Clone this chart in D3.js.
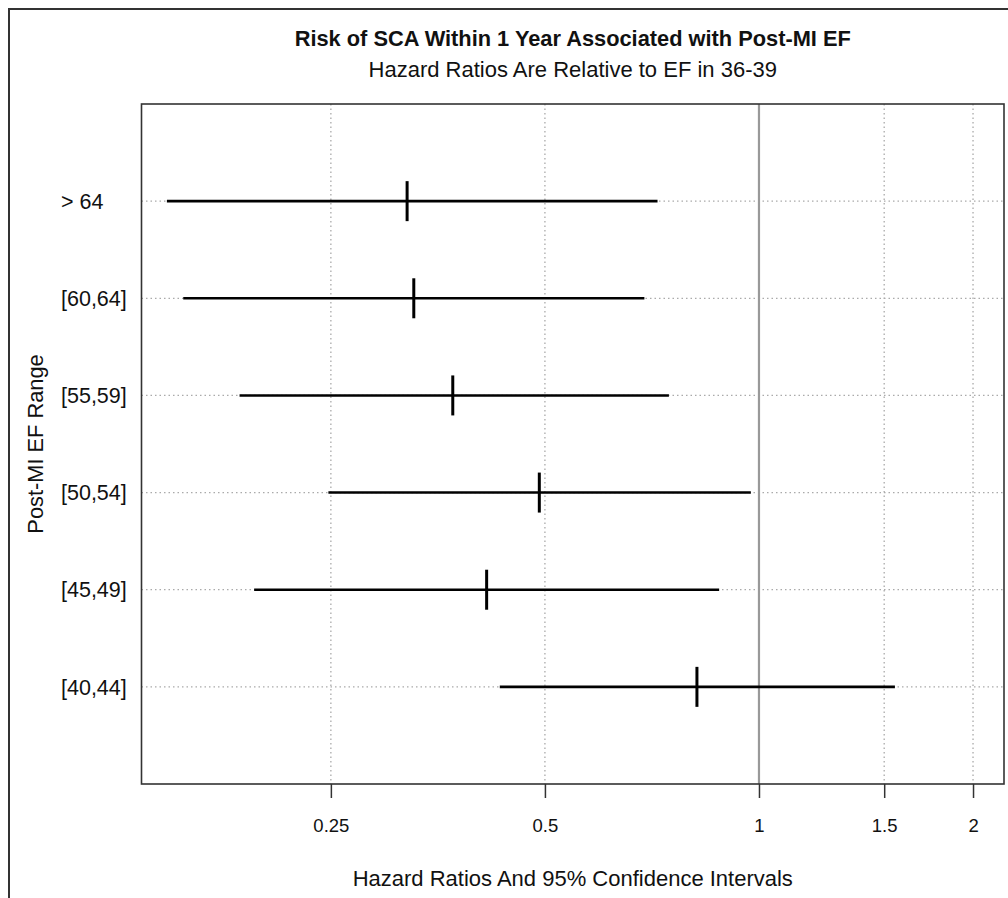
<!DOCTYPE html>
<html lang="en">
<head>
  <meta charset="UTF-8" />
  <title>Risk of SCA Within 1 Year Associated with Post-MI EF</title>
  <script src="https://d3js.org/d3.v7.min.js"></script>
  <style>
    body {
      margin: 0;
      background: #fff;
      font-family: 'Liberation Sans', Arial, sans-serif;
    }
    .grid line {
      stroke: #aaa;
      stroke-width: 1.3;
      stroke-dasharray: 1.5 3;
    }
    .x-axis path { display: none; }
    .x-axis line { stroke: #333; stroke-width: 1.5; }
    .x-axis text { font-size: 18.5px; fill: #111; }
  </style>
</head>
<body>
  <div id="chart"></div>

  <script>
    // EF ranges, top to bottom
    const ranges = ["> 64", "[60,64]", "[55,59]", "[50,54]", "[45,49]", "[40,44]"];
    // hazard ratios and 95% CI
    const hazard = [0.320, 0.327, 0.371, 0.491, 0.414, 0.818];
    const ciLow  = [0.147, 0.155, 0.186, 0.248, 0.195, 0.432];
    const ciHigh = [0.720, 0.690, 0.747, 0.974, 0.879, 1.553];
    const xTicks = [0.25, 0.5, 1, 1.5, 2];

    const width = 1008, height = 898;
    const margin = { top: 104, right: 4, bottom: 114, left: 141.5 };

    const rows = ranges.map((r, i) => ({ range: r, hr: hazard[i], lo: ciLow[i], hi: ciHigh[i] }));

    const svg = d3.select("#chart").append("svg")
      .attr("width", width)
      .attr("height", height);

    // outer frame
    svg.append("rect")
      .attr("x", 9).attr("y", 9)
      .attr("width", width + 20).attr("height", height + 20)
      .attr("fill", "none")
      .attr("stroke", "#333")
      .attr("stroke-width", 2);

    const x = d3.scaleLog()
      .domain([0.1354, 2.211])
      .range([margin.left, width - margin.right]);

    const y = d3.scalePoint()
      .domain(ranges)
      .range([margin.top, height - margin.bottom])
      .padding(1);

    const plotTop = margin.top, plotBottom = height - margin.bottom;

    // dotted grid
    const grid = svg.append("g").attr("class", "grid");
    grid.selectAll(".vg")
      .data(xTicks.filter(d => d !== 1))
      .enter().append("line")
      .attr("x1", d => x(d)).attr("x2", d => x(d))
      .attr("y1", plotTop).attr("y2", plotBottom);
    grid.selectAll(".hg")
      .data(ranges)
      .enter().append("line")
      .attr("x1", margin.left).attr("x2", width - margin.right)
      .attr("y1", d => y(d)).attr("y2", d => y(d));

    // reference line at HR = 1
    svg.append("line")
      .attr("x1", x(1)).attr("x2", x(1))
      .attr("y1", plotTop).attr("y2", plotBottom)
      .attr("stroke", "#999")
      .attr("stroke-width", 2.2);

    // confidence intervals
    svg.selectAll(".ci")
      .data(rows)
      .enter().append("line")
      .attr("x1", d => x(d.lo)).attr("x2", d => x(d.hi))
      .attr("y1", d => y(d.range)).attr("y2", d => y(d.range))
      .attr("stroke", "#000")
      .attr("stroke-width", 2.6);

    // point estimates
    svg.selectAll(".est")
      .data(rows)
      .enter().append("line")
      .attr("x1", d => x(d.hr)).attr("x2", d => x(d.hr))
      .attr("y1", d => y(d.range) - 20).attr("y2", d => y(d.range) + 20)
      .attr("stroke", "#000")
      .attr("stroke-width", 3);

    // plot box
    svg.append("rect")
      .attr("x", margin.left).attr("y", plotTop)
      .attr("width", width - margin.right - margin.left)
      .attr("height", plotBottom - plotTop)
      .attr("fill", "none")
      .attr("stroke", "#333")
      .attr("stroke-width", 1.6);

    // x axis
    svg.append("g")
      .attr("class", "x-axis")
      .attr("transform", `translate(0,${plotBottom})`)
      .call(d3.axisBottom(x)
        .tickValues(xTicks)
        .tickFormat(d3.format("~g"))
        .tickSize(14)
        .tickPadding(21));

    // y labels, left aligned
    svg.selectAll(".ylab")
      .data(ranges)
      .enter().append("text")
      .attr("x", 61)
      .attr("y", d => y(d))
      .attr("dy", "0.36em")
      .style("font-size", "21.5px")
      .style("fill", "#111")
      .text(d => d);

    const cx = (margin.left + width - margin.right) / 2;

    svg.append("text")
      .attr("x", cx).attr("y", 46)
      .attr("text-anchor", "middle")
      .style("font-size", "21.8px")
      .style("font-weight", "bold")
      .style("fill", "#111")
      .text("Risk of SCA Within 1 Year Associated with Post-MI EF");

    svg.append("text")
      .attr("x", cx).attr("y", 77)
      .attr("text-anchor", "middle")
      .style("font-size", "22px")
      .style("fill", "#111")
      .text("Hazard Ratios Are Relative to EF in 36-39");

    svg.append("text")
      .attr("x", cx).attr("y", 886)
      .attr("text-anchor", "middle")
      .style("font-size", "22px")
      .style("fill", "#111")
      .text("Hazard Ratios And 95% Confidence Intervals");

    svg.append("text")
      .attr("transform", `translate(43,${(plotTop + plotBottom) / 2}) rotate(-90)`)
      .attr("text-anchor", "middle")
      .style("font-size", "21.8px")
      .style("fill", "#111")
      .text("Post-MI EF Range");
  </script>
</body>
</html>
